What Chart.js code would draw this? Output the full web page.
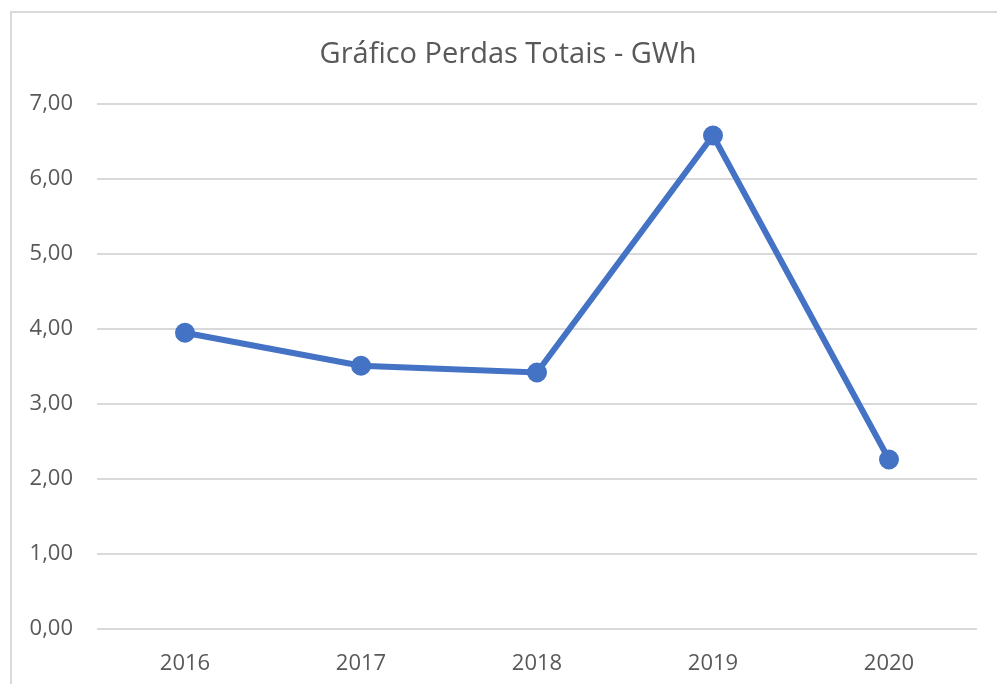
<!DOCTYPE html>
<html>
<head>
<meta charset="utf-8">
<script src="https://cdn.jsdelivr.net/npm/chart.js@4"></script>
<style>
  body { margin: 0; background: #fff; }
  #frame {
    position: absolute; left: 10px; top: 11px; right: 0; bottom: 0;
    border-left: 2px solid #d9d9d9; border-top: 2px solid #d9d9d9;
  }
  #wrap { position: absolute; left: 0; top: 0; width: 997px; height: 684px; }
</style>
</head>
<body>
<div id="frame"></div>
<div id="wrap"><canvas id="myChart"></canvas></div>
<script>
// dados
const anos = ['2016', '2017', '2018', '2019', '2020'];
const perdas = [3.95, 3.51, 3.42, 6.58, 2.26];
const yTicks = [0, 1, 2, 3, 4, 5, 6, 7];
const titulo = 'Gráfico Perdas Totais - GWh';

const fonte = "'Open Sans', 'DejaVu Sans', sans-serif";

// titulo centrado na moldura toda, nao so na area do grafico
const tituloPlugin = {
    id: 'tituloPlugin',
    afterDraw: function(chart) {
        const c = chart.ctx;
        c.save();
        c.font = '29px ' + fonte;
        c.fillStyle = '#595959';
        c.textAlign = 'center';
        c.textBaseline = 'middle';
        c.fillText(titulo, 508, 55);
        c.restore();
    }
};

var ctx = document.getElementById('myChart').getContext('2d');
var myChart = new Chart(ctx, {
    type: 'line',
    data: {
        labels: anos,
        datasets: [{
            label: 'Perdas Totais',
            data: perdas,
            borderColor: '#4472C4',
            backgroundColor: '#4472C4',
            borderWidth: 6,
            pointRadius: 7,
            pointHoverRadius: 7,
            tension: 0
        }]
    },
    plugins: [tituloPlugin],
    options: {
        responsive: true,
        maintainAspectRatio: false,
        animation: false,
        layout: { padding: { left: 0, right: 20, top: 104, bottom: 0 } },
        plugins: {
            legend: { display: false },
            tooltip: { enabled: false },
            title: { display: false }
        },
        scales: {
            x: {
                offset: true,
                grid: { display: false },
                border: { display: false },
                ticks: {
                    color: '#595959',
                    font: { family: fonte, size: 22 },
                    padding: 14
                },
                afterFit: function(scale) { scale.height = 55; }
            },
            y: {
                min: 0,
                max: 7,
                afterBuildTicks: function(scale) {
                    scale.ticks = yTicks.map(v => ({ value: v }));
                },
                grid: { color: '#d9d9d9', lineWidth: 2, drawTicks: false },
                border: { display: false },
                ticks: {
                    color: '#595959',
                    font: { family: fonte, size: 22 },
                    padding: 24,
                    callback: function(v) { return v.toFixed(2).replace('.', ','); }
                },
                afterFit: function(scale) { scale.width = 97; }
            }
        }
    }
});
</script>
</body>
</html>
